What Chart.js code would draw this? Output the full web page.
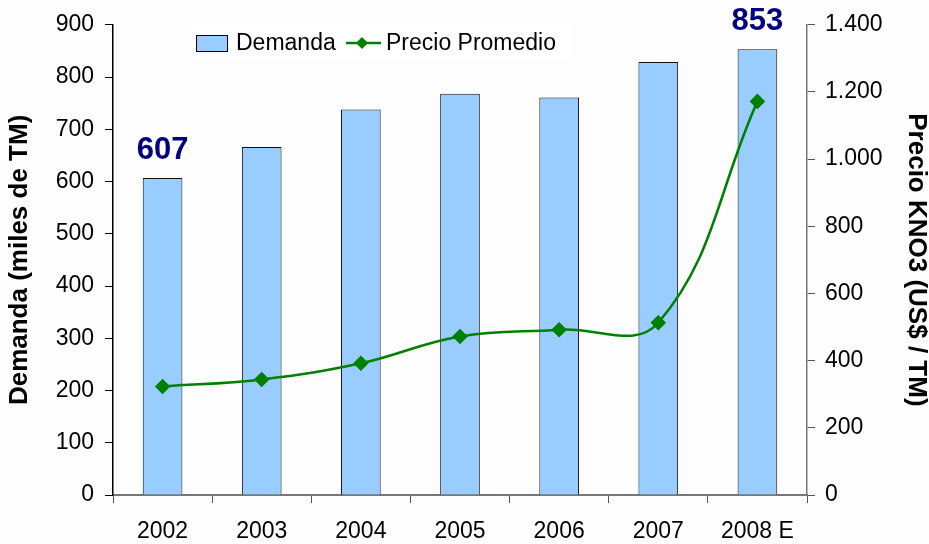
<!DOCTYPE html>
<html>
<head>
<meta charset="utf-8">
<script src="https://cdn.jsdelivr.net/npm/chart.js@4"></script>
<style>
  html, body { margin: 0; padding: 0; background: #fdfdfd; }
  #wrap { width: 929px; height: 544px; }
</style>
</head>
<body>
<div id="wrap"><canvas id="chart"></canvas></div>
<script>
const years = ['2002', '2003', '2004', '2005', '2006', '2007', '2008 E'];
const demanda = [607, 666, 738, 768, 761, 829, 853];
const precio = [323, 344, 392, 472, 492, 513, 1172];
const demandaTicks = [0, 100, 200, 300, 400, 500, 600, 700, 800, 900];
const precioTicks = [0, 200, 400, 600, 800, 1000, 1200, 1400];
const labelledBars = [0, 6];

const FONT = 'Liberation Sans, Arial, sans-serif';

// big navy value labels over first and last bar
const barLabels = {
    id: 'barLabels',
    afterDatasetsDraw(chart) {
        const ctx = chart.ctx;
        const meta = chart.getDatasetMeta(0);
        ctx.save();
        ctx.font = 'bold 31px ' + FONT;
        ctx.fillStyle = '#000080';
        ctx.textAlign = 'center';
        ctx.textBaseline = 'bottom';
        labelledBars.forEach(i => {
            const bar = meta.data[i];
            ctx.fillText(String(demanda[i]), bar.x, bar.y - 12);
        });
        ctx.restore();
    }
};

// Excel-like legend box inside the plot
const boxLegend = {
    id: 'boxLegend',
    afterDraw(chart) {
        const ctx = chart.ctx;
        const ds = chart.data.datasets;
        ctx.save();
        ctx.fillStyle = '#ffffff';
        ctx.fillRect(188, 24, 383, 36);
        ctx.font = '23px ' + FONT;
        ctx.textBaseline = 'middle';
        ctx.fillStyle = ds[0].backgroundColor;
        ctx.fillRect(196, 35, 31, 16);
        ctx.strokeStyle = '#000';
        ctx.lineWidth = 1;
        ctx.strokeRect(196.5, 35.5, 31, 16);
        ctx.fillStyle = '#000';
        ctx.fillText(ds[0].label, 236, 44);
        ctx.strokeStyle = ds[1].borderColor;
        ctx.lineWidth = 2.5;
        ctx.beginPath();
        ctx.moveTo(346, 43);
        ctx.lineTo(381, 43);
        ctx.stroke();
        ctx.fillStyle = ds[1].borderColor;
        ctx.beginPath();
        ctx.moveTo(362, 37); ctx.lineTo(368, 43); ctx.lineTo(362, 49); ctx.lineTo(356, 43);
        ctx.closePath();
        ctx.fill();
        ctx.fillStyle = '#000';
        ctx.fillText(ds[1].label, 386, 44);
        ctx.restore();
    }
};

new Chart(document.getElementById('chart'), {
    type: 'bar',
    data: {
        labels: years,
        datasets: [{
            label: 'Demanda',
            data: demanda,
            yAxisID: 'y',
            backgroundColor: '#99ccff',
            borderColor: '#111111',
            borderWidth: 1,
            categoryPercentage: 1,
            barPercentage: 0.4,
            order: 1
        }, {
            type: 'line',
            label: 'Precio Promedio',
            data: precio,
            yAxisID: 'y2',
            borderColor: '#008000',
            backgroundColor: '#008000',
            borderWidth: 2.5,
            tension: 0.4,
            pointStyle: 'rectRot',
            pointRadius: 6,
            pointHoverRadius: 6,
            order: 0
        }]
    },
    options: {
        responsive: true,
        maintainAspectRatio: false,
        animation: false,
        layout: { padding: { top: 23, left: 0, right: 0, bottom: 0 } },
        plugins: {
            legend: { display: false },
            tooltip: { enabled: false }
        },
        scales: {
            x: {
                grid: { offset: true, drawOnChartArea: false, tickLength: 8, color: '#555' },
                border: { color: '#777', width: 2 },
                ticks: { color: '#000', font: { family: FONT, size: 23 }, padding: 15 },
                afterFit(scale) { scale.height = 49; }
            },
            y: {
                position: 'left',
                min: 0,
                max: 900,
                afterBuildTicks(scale) { scale.ticks = demandaTicks.map(v => ({ value: v })); },
                grid: { drawOnChartArea: false, tickLength: 8, color: '#000' },
                border: { color: '#000', width: 1.5 },
                ticks: { color: '#000', font: { family: FONT, size: 23 }, padding: 11 },
                title: {
                    display: true,
                    text: 'Demanda (miles de TM)',
                    color: '#000',
                    font: { family: FONT, size: 26, weight: 'bold', lineHeight: 1 },
                    padding: { top: 7, bottom: 0 }
                },
                afterFit(scale) { scale.width = 113; }
            },
            y2: {
                position: 'right',
                min: 0,
                max: 1400,
                afterBuildTicks(scale) { scale.ticks = precioTicks.map(v => ({ value: v })); },
                grid: { drawOnChartArea: false, tickLength: 8, color: '#555' },
                border: { color: '#777', width: 1.5 },
                ticks: {
                    color: '#000',
                    font: { family: FONT, size: 23 },
                    padding: 10,
                    callback: v => v.toLocaleString('de-DE')
                },
                title: {
                    display: true,
                    text: 'Precio KNO3 (US$ / TM)',
                    color: '#000',
                    font: { family: FONT, size: 26, weight: 'bold', lineHeight: 1 },
                    padding: { top: 0, bottom: 0 }
                },
                afterFit(scale) { scale.width = 122; }
            }
        }
    },
    plugins: [barLabels, boxLegend]
});
</script>
</body>
</html>
